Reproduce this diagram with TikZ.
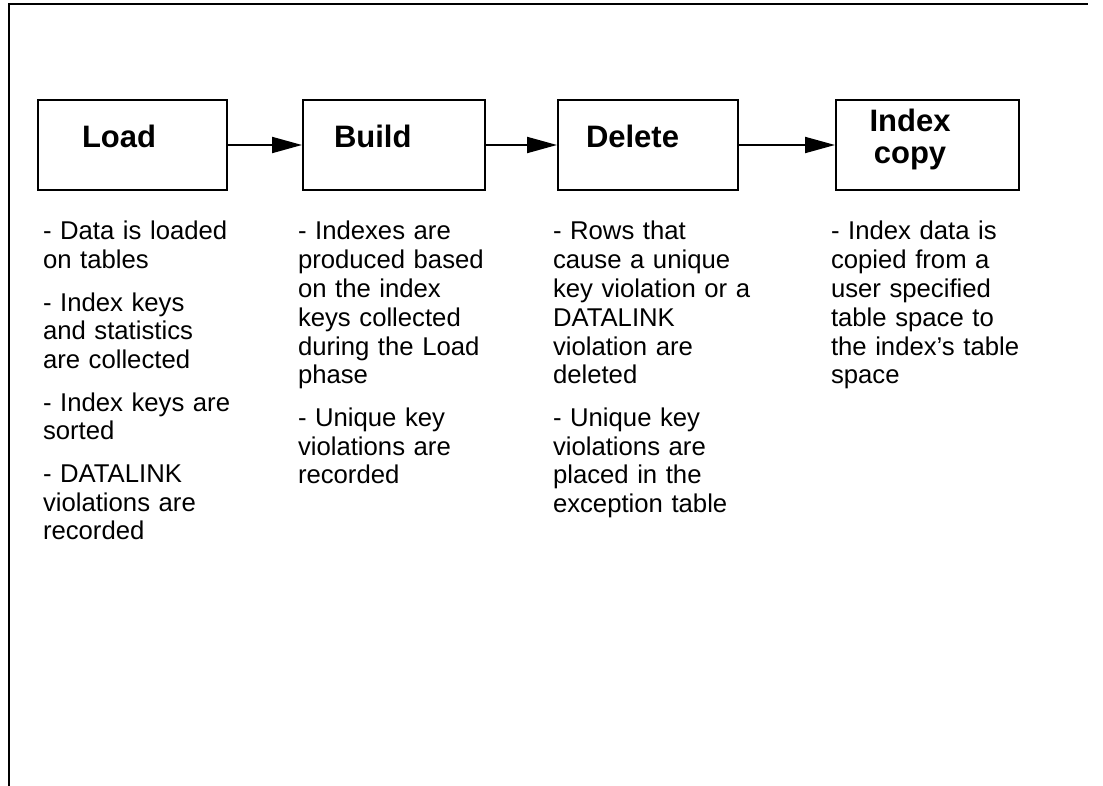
\documentclass[tikz,border=0pt]{standalone}
\usepackage{fontspec}
\setmainfont{Liberation Sans}
\usetikzlibrary{arrows.meta}
\begin{document}
\begin{tikzpicture}[x=1pt,y=-1pt,
  line width=2pt,
  phase/.style={draw,line width=2pt,minimum width=181pt,minimum height=90pt,inner sep=0pt,anchor=north west},
  ptitle/.style={font=\fontsize{31}{32}\selectfont\bfseries,inner sep=0pt,anchor=base west,align=center},
  notes/.style={font=\fontsize{25.7}{28.8}\selectfont,inner sep=0pt,anchor=base west,text width=250pt,align=left},
  flow/.style={-{Triangle[length=30pt,width=16pt]},line width=2pt}]
\useasboundingbox (0,0) rectangle (1103,786);
% page frame: top and left edges
\coordinate (ftl) at (9,4);
\coordinate (ftr) at (1088,4);
\coordinate (fbl) at (9,786);
\draw (fbl) -- (ftl) -- (ftr);

% phase boxes
\node[phase,minimum width=189pt] (load) at (37,99) {};
\node[phase,minimum width=182pt] (build) at (302,99) {};
\node[phase,minimum width=180pt] (delete) at (557,99) {};
\node[phase,minimum width=183pt] (icopy) at (835,99) {};

% box titles
\node[ptitle] (tload) at (81,148) {Load};
\node[ptitle] (tbuild) at (333,148) {Build};
\node[ptitle] (tdelete) at (585,148) {Delete};
\node[ptitle,anchor=base] (ticopy) at (910,164) {Index\\copy};

% connectors
\draw[flow] (load.east) -- (build.west);
\draw[flow] (build.east) -- (delete.west);
\draw[flow] (delete.east) -- (icopy.west);

% descriptions
\node[notes] (nload) at (42,240) {- Data is loaded\\on tables\\[13.6pt]- Index keys\\and statistics\\are collected\\[13.6pt]- Index keys are\\sorted\\[13.6pt]- DATALINK\\violations are\\recorded};
\node[notes] (nbuild) at (297,240) {- Indexes are\\produced based\\on the index\\keys collected\\during the Load\\phase\\[13.6pt]- Unique key\\violations are\\recorded};
\node[notes] (ndelete) at (552,240) {- Rows that\\cause a unique\\key violation or a\\DATALINK\\violation are\\deleted\\[13.6pt]- Unique key\\violations are\\placed in the\\exception table};
\node[notes] (nicopy) at (830,240) {- Index data is\\copied from a\\user specified\\table space to\\the index’s table\\space};
\end{tikzpicture}
\end{document}
